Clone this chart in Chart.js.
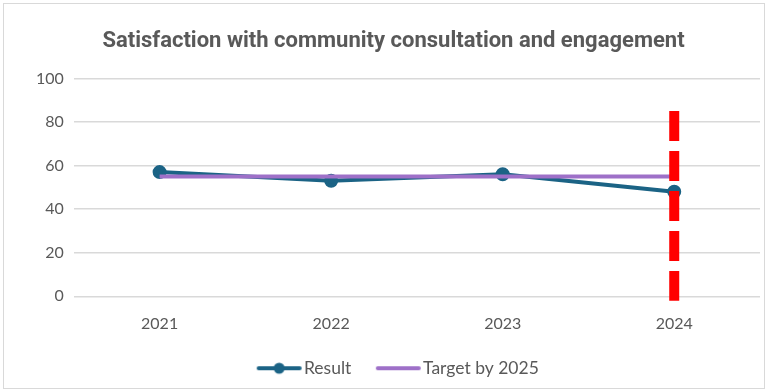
<!DOCTYPE html>
<html>
<head>
<meta charset="utf-8">
<script src="https://cdn.jsdelivr.net/npm/chart.js@4"></script>
<style>
    html, body { margin: 0; padding: 0; background: #fff; }
    #wrap { position: absolute; left: 3px; top: 3px; width: 762px; height: 386px; border: 1px solid #d9d9d9; box-sizing: border-box; }
    #satChart { position: absolute; left: -4px; top: -4px; }
</style>
</head>
<body>
<div id="wrap"><canvas id="satChart" width="769" height="392"></canvas></div>
<script>
var years = ['2021', '2022', '2023', '2024'];
var resultValues = [57, 53, 56, 48];
var targetValues = [55, 55, 55, 55];
var yTicks = [0, 20, 40, 60, 80, 100];
var markerYear = '2024';
var markerRange = [85, -2];

var textGray = '#595959';
var resultColor = '#1b6385';
var targetColor = '#9e70c8';

// legend swatch: image is wider than the legend box so the line sits close to the text
function legendIcon(color, withDot) {
    var c = document.createElement('canvas');
    c.width = 64; c.height = 14;
    var ctx = c.getContext('2d');
    ctx.strokeStyle = color;
    ctx.lineWidth = 4;
    ctx.lineCap = 'round';
    ctx.beginPath();
    ctx.moveTo(19, 7);
    ctx.lineTo(60, 7);
    ctx.stroke();
    if (withDot) {
        ctx.fillStyle = color;
        ctx.beginPath();
        ctx.arc(39.5, 7, 5.5, 0, Math.PI * 2);
        ctx.fill();
    }
    return c;
}

var ctx = document.getElementById('satChart').getContext('2d');

var lineChart = new Chart(ctx, {
    type: 'line',
    data: {
        labels: years,
        datasets: [{
            label: 'Result',
            data: resultValues,
            borderColor: resultColor,
            backgroundColor: resultColor,
            borderWidth: 4,
            pointRadius: 5,
            pointHoverRadius: 5,
            order: 2
        }, {
            label: 'Target by 2025',
            data: targetValues,
            borderColor: targetColor,
            backgroundColor: targetColor,
            borderWidth: 4,
            pointRadius: 0,
            order: 1
        }, {
            label: 'marker',
            data: markerRange.map(function (v) { return { x: markerYear, y: v }; }),
            borderColor: '#ff0000',
            borderWidth: 10,
            borderDash: [30, 10],
            borderCapStyle: 'butt',
            pointRadius: 0,
            clip: false,
            order: 0
        }]
    },
    options: {
        responsive: false,
        animation: false,
        layout: { padding: { left: 26, right: 8, top: 19, bottom: 5 } },
        plugins: {
            title: {
                display: true,
                text: 'Satisfaction with community consultation and engagement',
                color: textGray,
                font: { family: 'Roboto', size: 22, weight: 'bold' },
                padding: { top: 9, bottom: 24 }
            },
            legend: {
                position: 'bottom',
                labels: {
                    color: textGray,
                    font: { family: 'Lato', size: 17.5 },
                    usePointStyle: true,
                    pointStyleWidth: 47,
                    padding: 16,
                    filter: function (item) { return item.text !== 'marker'; },
                    sort: function (a, b) { return a.datasetIndex - b.datasetIndex; },
                    generateLabels: function (chart) {
                        var items = Chart.defaults.plugins.legend.labels.generateLabels(chart);
                        items.forEach(function (it) {
                            if (it.datasetIndex === 0) it.pointStyle = legendIcon(resultColor, true);
                            if (it.datasetIndex === 1) it.pointStyle = legendIcon(targetColor, false);
                        });
                        return items;
                    }
                }
            },
            tooltip: { enabled: false }
        },
        scales: {
            x: {
                offset: true,
                grid: { display: false },
                border: { display: false },
                ticks: { color: textGray, font: { family: 'Lato', size: 16 }, padding: 10 }
            },
            y: {
                min: 0,
                max: 100,
                afterBuildTicks: function (axis) {
                    axis.ticks = yTicks.map(function (v) { return { value: v }; });
                },
                grid: { color: '#d9d9d9', lineWidth: 1.5, drawTicks: false },
                border: { display: false },
                ticks: { color: textGray, font: { family: 'Lato', size: 16 }, padding: 10 }
            }
        }
    }
});
</script>
</body>
</html>
